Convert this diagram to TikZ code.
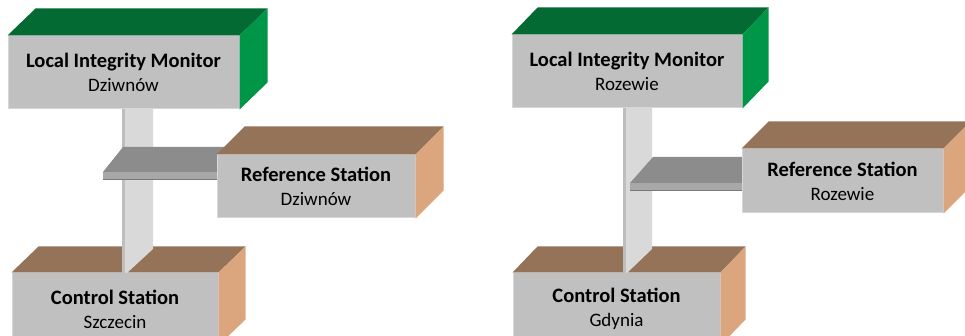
\documentclass[tikz,border=0pt]{standalone}
\usepackage{fontspec}
\setmainfont{Carlito}
\usetikzlibrary{calc}

\definecolor{frontgray}{RGB}{192,192,192}
\definecolor{frontedge}{RGB}{215,215,215}
\definecolor{greentop}{RGB}{4,106,52}
\definecolor{greenside}{RGB}{0,150,72}
\definecolor{browntop}{RGB}{148,115,88}
\definecolor{brownside}{RGB}{219,165,125}
\definecolor{shelftop}{RGB}{140,140,140}
\definecolor{shelfedge}{RGB}{168,168,168}
\definecolor{shelfline}{RGB}{120,120,120}
\definecolor{pillar}{RGB}{217,217,217}
\definecolor{pillardark}{RGB}{190,190,190}

\tikzset{
  front/.style={fill=frontgray, draw=frontedge, line width=1pt, inner sep=0pt,
    align=center, font=\fontsize{19}{24}\selectfont},
  pillarbody/.style={fill=pillar},
  pillarshade/.style={fill=pillardark},
}

% title line of a block label
\newcommand\blocktitle[1]{{\fontsize{20.5}{24}\selectfont\bfseries #1}}

% top and side faces of a block, from the anchors of its front face
\newcommand\blockfaces[5]{%
  \fill[#2] (#1.north west) -- ++(#4,-#5) -- ($(#1.north east)+(#4,-#5)$)
    -- (#1.north east) -- cycle;
  \fill[#3] (#1.north east) -- ++(#4,-#5) -- ($(#1.south east)+(#4,-#5)$)
    -- (#1.south east) -- cycle;}

\begin{document}
\begin{tikzpicture}[x=1pt,y=-1pt]
\useasboundingbox (0,0) rectangle (965,336);
\clip (0,0) rectangle (965,336);
\fill[white] (0,0) rectangle (965,336);

% ---------- Szczecin / Dziwnów ----------
\node[front, minimum width=206pt, minimum height=72pt] (csL) at (115,309)
  {\blocktitle{Control Station}\\Szczecin};
\blockfaces{csL}{browntop}{brownside}{27}{26}

\fill[pillarbody] (122,109) -- (153,109) -- (153,249) -- (127,273) -- (122,273) -- cycle;
\fill[pillarshade] (122,109) rectangle (125,273);

\node[front, minimum width=231pt, minimum height=73pt] (limL) at (123.5,72.5)
  {\blocktitle{Local Integrity Monitor}\\Dziwnów};
\blockfaces{limL}{greentop}{greenside}{28}{27}

\fill[shelftop] (103,172) -- (123,147) -- (230,147) -- (230,172) -- cycle;
\fill[shelfedge] (103,172) rectangle (230,179);
\draw[shelfline, line width=0.8pt] (103,179) -- (230,179);

\node[front, minimum width=198pt, minimum height=63pt] (refL) at (316,186.5)
  {\blocktitle{Reference Station}\\Dziwnów};
\blockfaces{refL}{browntop}{brownside}{28}{28}

% ---------- Gdynia / Rozewie ----------
\node[front, minimum width=207pt, minimum height=72pt] (csR) at (616.5,309)
  {\blocktitle{Control Station}\\Gdynia};
\blockfaces{csR}{browntop}{brownside}{25}{26}

\fill[pillarbody] (623,108) -- (652,108) -- (652,249) -- (627,273) -- (623,273) -- cycle;
\fill[pillarshade] (623,108) rectangle (626,273);

\node[front, minimum width=230pt, minimum height=73pt] (limR) at (627,71.5)
  {\blocktitle{Local Integrity Monitor}\\Rozewie};
\blockfaces{limR}{greentop}{greenside}{26}{27}

\fill[shelftop] (630,183) -- (653,157) -- (750,157) -- (750,183) -- cycle;
\fill[shelfedge] (630,183) rectangle (750,190);
\draw[shelfline, line width=0.8pt] (630,190) -- (750,190);

\node[front, minimum width=201pt, minimum height=64pt] (refR) at (842.5,181)
  {\blocktitle{Reference Station}\\Rozewie};
\blockfaces{refR}{browntop}{brownside}{27}{27}
\end{tikzpicture}
\end{document}
